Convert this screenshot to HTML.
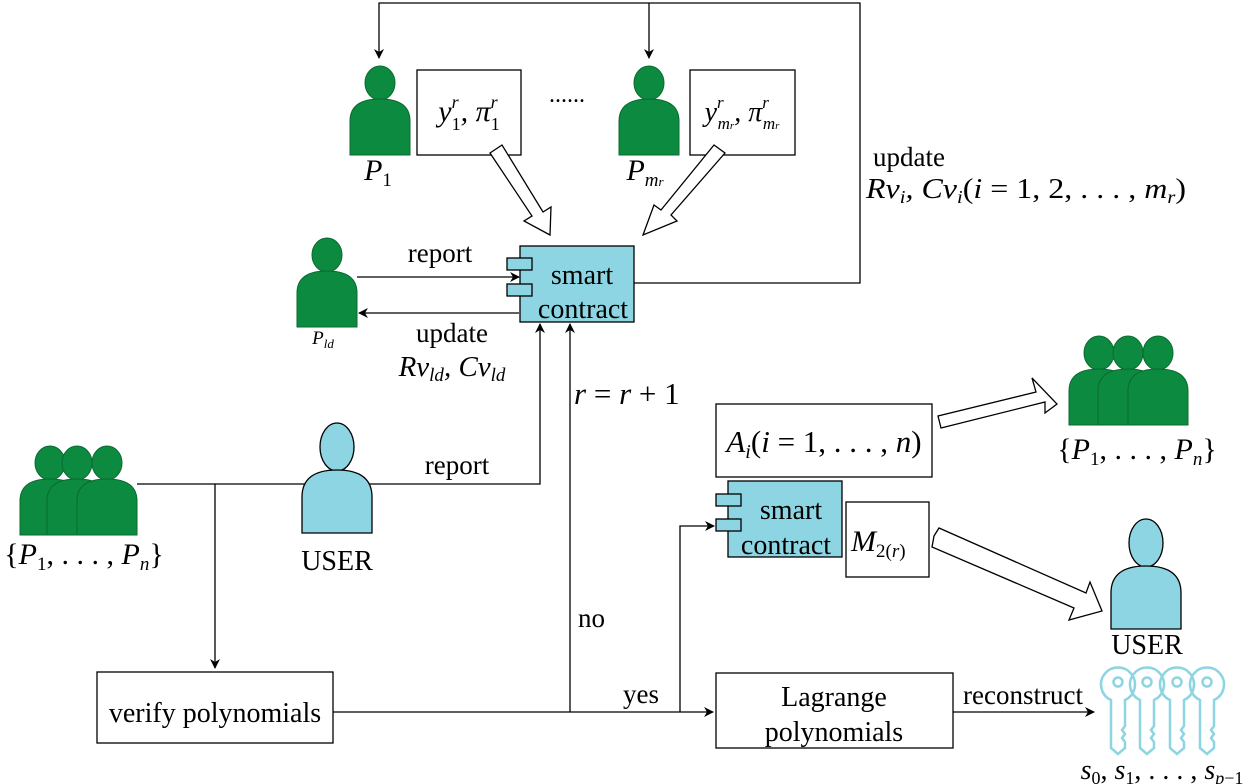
<!DOCTYPE html>
<html><head><meta charset="utf-8"><style>
html,body{margin:0;padding:0;background:#fff;}
svg{display:block;font-family:"Liberation Serif",serif;}
.m{font-style:italic;}
</style></head><body>
<svg width="1255" height="784" viewBox="0 0 1255 784" xmlns="http://www.w3.org/2000/svg">
<defs>
<marker id="a" markerWidth="10" markerHeight="10" refX="9" refY="5" orient="auto" markerUnits="userSpaceOnUse">
<path d="M0,0 L10,5 L0,10 L3,5 Z" fill="#000"/></marker>
<g id="pg"><ellipse cx="0" cy="0" rx="15" ry="17" fill="#0c8a40" stroke="#0a6a30" stroke-width="1"/>
<path d="M-30,72 L-30,38 Q-30,16 0,16 Q30,16 30,38 L30,72 Z" fill="#0c8a40" stroke="#0a6a30" stroke-width="1"/></g>
<g id="pb"><ellipse cx="0" cy="0" rx="17" ry="24" fill="#8dd5e2" stroke="#000" stroke-width="1.3"/>
<path d="M-35,86 L-35,50 Q-35,23 0,23 Q35,23 35,50 L35,86 Z" fill="#8dd5e2" stroke="#000" stroke-width="1.3"/></g>
<g id="key" fill="none" stroke="#8dd5e2" stroke-width="2.5">
<path d="M-7,14 A17,17 0 1 1 7,14 L7,40 L4,44 L7,48 L4,52 L7,56 L7,62 L0,68 L-7,62 Z"/>
<circle cx="0" cy="-4" r="4.5"/></g>
</defs>

<path d="M634,283 L860,283 L860,3 L379,3 L379,58" fill="none" stroke="#000" stroke-width="1.3" marker-end="url(#a)"/>
<path d="M649,3 L649,58" fill="none" stroke="#000" stroke-width="1.3" marker-end="url(#a)"/>

<use href="#pg" x="380" y="83"/>
<rect x="417" y="70" width="104" height="85" fill="#fff" stroke="#000" stroke-width="1.3"/>
<text x="469" y="121" font-size="30" text-anchor="middle" class="m">y<tspan font-size="18" dy="-13">r</tspan><tspan font-size="18" dx="-7" dy="22" font-style="normal">1</tspan><tspan dy="-9">, π</tspan><tspan font-size="18" dy="-13">r</tspan><tspan font-size="18" dx="-7" dy="22" font-style="normal">1</tspan></text>
<text x="567" y="102" font-size="24" text-anchor="middle">......</text>
<use href="#pg" x="649" y="83"/>
<rect x="690" y="70" width="105" height="85" fill="#fff" stroke="#000" stroke-width="1.3"/>
<text x="742" y="121" font-size="28" text-anchor="middle" class="m">y<tspan font-size="17" dy="-13">r</tspan><tspan font-size="17" dx="-6" dy="21">m<tspan font-size="11">r</tspan></tspan><tspan dy="-8">, π</tspan><tspan font-size="17" dy="-13">r</tspan><tspan font-size="17" dx="-6" dy="21">m<tspan font-size="11">r</tspan></tspan></text>
<text x="378" y="180" font-size="30" text-anchor="middle" class="m">P<tspan font-size="19" dy="6" font-style="normal">1</tspan></text>
<text x="645" y="180" font-size="30" text-anchor="middle" class="m">P<tspan font-size="19" dy="6">m<tspan font-size="13">r</tspan></tspan></text>

<polygon points="490,153 502,145 543,212 551,207 550,235 524,221 532,216" fill="#fff" stroke="#000" stroke-width="1.3"/>
<polygon points="714,145 725,153 671,215 677,221 643,235 654,205 661,210" fill="#fff" stroke="#000" stroke-width="1.3"/>

<rect x="520" y="246" width="114" height="76" fill="#8dd5e2" stroke="#000" stroke-width="1.3"/>
<rect x="507" y="258" width="25" height="12" fill="#8dd5e2" stroke="#000" stroke-width="1.3"/>
<rect x="507" y="284" width="25" height="12" fill="#8dd5e2" stroke="#000" stroke-width="1.3"/>
<text x="582" y="284" font-size="28" text-anchor="middle">smart</text>
<text x="583" y="318" font-size="28" text-anchor="middle">contract</text>

<use href="#pg" x="327" y="255"/>
<text x="323" y="344" font-size="19" text-anchor="middle" class="m">P<tspan font-size="13" dy="4">ld</tspan></text>
<line x1="357" y1="277" x2="519" y2="277" stroke="#000" stroke-width="1.3" marker-end="url(#a)"/>
<line x1="519" y1="313" x2="359" y2="313" stroke="#000" stroke-width="1.3" marker-end="url(#a)"/>
<text x="440" y="262" font-size="27" text-anchor="middle">report</text>
<text x="452" y="342" font-size="27" text-anchor="middle">update</text>
<text x="452" y="376" font-size="29" text-anchor="middle" class="m">Rv<tspan font-size="19" dy="5">ld</tspan><tspan dy="-5">, Cv</tspan><tspan font-size="19" dy="5">ld</tspan></text>

<text x="873" y="166" font-size="27">update</text>
<text x="866" y="198" font-size="28" class="m" textLength="320" lengthAdjust="spacingAndGlyphs">Rv<tspan font-size="18" dy="5">i</tspan><tspan dy="-5">, Cv</tspan><tspan font-size="18" dy="5">i</tspan><tspan dy="-5" font-style="normal">(</tspan>i<tspan font-style="normal"> = 1, 2, . . . , </tspan>m<tspan font-size="18" dy="5">r</tspan><tspan dy="-5" font-style="normal">)</tspan></text>

<use href="#pg" x="50" y="463"/>
<use href="#pg" x="77" y="463"/>
<use href="#pg" x="107" y="463"/>
<text x="84" y="564" font-size="30" text-anchor="middle" class="m"><tspan font-style="normal">{</tspan>P<tspan font-size="19" dy="6" font-style="normal">1</tspan><tspan dy="-6" font-style="normal">, . . . , </tspan>P<tspan font-size="19" dy="6">n</tspan><tspan dy="-6" font-style="normal">}</tspan></text>
<path d="M137,484 L540,484 L540,324" fill="none" stroke="#000" stroke-width="1.3" marker-end="url(#a)"/>
<path d="M215,484 L215,668" fill="none" stroke="#000" stroke-width="1.3" marker-end="url(#a)"/>
<use href="#pb" x="337" y="447"/>
<text x="337" y="570" font-size="28" text-anchor="middle">USER</text>
<text x="457" y="474" font-size="27" text-anchor="middle">report</text>

<rect x="97" y="672" width="236" height="71" fill="#fff" stroke="#000" stroke-width="1.3"/>
<text x="215" y="722" font-size="28" text-anchor="middle">verify polynomials</text>
<line x1="333" y1="712" x2="713" y2="712" stroke="#000" stroke-width="1.3" marker-end="url(#a)"/>
<path d="M570,712 L570,324" fill="none" stroke="#000" stroke-width="1.3" marker-end="url(#a)"/>
<text x="574" y="404" font-size="31" class="m">r<tspan font-style="normal"> = </tspan>r<tspan font-style="normal"> + 1</tspan></text>
<text x="578" y="627" font-size="27">no</text>
<text x="641" y="703" font-size="27" text-anchor="middle">yes</text>
<path d="M680,712 L680,526 L714,526" fill="none" stroke="#000" stroke-width="1.3" marker-end="url(#a)"/>

<rect x="716" y="404" width="216" height="73" fill="#fff" stroke="#000" stroke-width="1.3"/>
<text x="824" y="452" font-size="31" text-anchor="middle" class="m">A<tspan font-size="20" dy="6">i</tspan><tspan dy="-6" font-style="normal">(</tspan>i<tspan font-style="normal"> = 1, . . . , </tspan>n<tspan font-style="normal">)</tspan></text>
<polygon points="941,428 1045,402 1045,413 1057,404 1032,378 1036,392 938,416" fill="#fff" stroke="#000" stroke-width="1.3"/>
<use href="#pg" x="1099" y="353"/>
<use href="#pg" x="1128" y="353"/>
<use href="#pg" x="1158" y="353"/>
<text x="1137" y="459" font-size="30" text-anchor="middle" class="m"><tspan font-style="normal">{</tspan>P<tspan font-size="19" dy="6" font-style="normal">1</tspan><tspan dy="-6" font-style="normal">, . . . , </tspan>P<tspan font-size="19" dy="6">n</tspan><tspan dy="-6" font-style="normal">}</tspan></text>

<rect x="728" y="481" width="114" height="76" fill="#8dd5e2" stroke="#000" stroke-width="1.3"/>
<rect x="716" y="494" width="25" height="12" fill="#8dd5e2" stroke="#000" stroke-width="1.3"/>
<rect x="716" y="519" width="25" height="12" fill="#8dd5e2" stroke="#000" stroke-width="1.3"/>
<text x="791" y="519" font-size="28" text-anchor="middle">smart</text>
<text x="786" y="554" font-size="28" text-anchor="middle">contract</text>
<rect x="846" y="502" width="83" height="75" fill="#fff" stroke="#000" stroke-width="1.3"/>
<text x="851" y="551" font-size="30" class="m">M<tspan font-size="19" dy="6" font-style="normal">2(</tspan><tspan font-size="19">r</tspan><tspan font-size="19" font-style="normal">)</tspan></text>
<polygon points="934,536 939,528 1086,593 1090,582 1102,611 1069,620 1074,608 932,547" fill="#fff" stroke="#000" stroke-width="1.3"/>
<use href="#pb" x="1146" y="543" transform="translate(0,0)"/>
<text x="1147" y="654" font-size="28" text-anchor="middle">USER</text>

<rect x="716" y="673" width="237" height="75" fill="#fff" stroke="#000" stroke-width="1.3"/>
<text x="834" y="706" font-size="28" text-anchor="middle">Lagrange</text>
<text x="834" y="741" font-size="28" text-anchor="middle">polynomials</text>
<line x1="953" y1="712" x2="1094" y2="712" stroke="#000" stroke-width="1.3" marker-end="url(#a)"/>
<text x="1023" y="704" font-size="27" text-anchor="middle">reconstruct</text>
<use href="#key" x="1118" y="686"/>
<use href="#key" x="1147" y="686"/>
<use href="#key" x="1177" y="686"/>
<use href="#key" x="1207" y="686"/>
<text x="1162" y="779" font-size="28" text-anchor="middle" class="m">s<tspan font-size="18" dy="5" font-style="normal">0</tspan><tspan dy="-5" font-style="normal">, </tspan>s<tspan font-size="18" dy="5" font-style="normal">1</tspan><tspan dy="-5" font-style="normal">, . . . , </tspan>s<tspan font-size="18" dy="5">p<tspan font-style="normal">−1</tspan></tspan></text>
</svg>
</body></html>
